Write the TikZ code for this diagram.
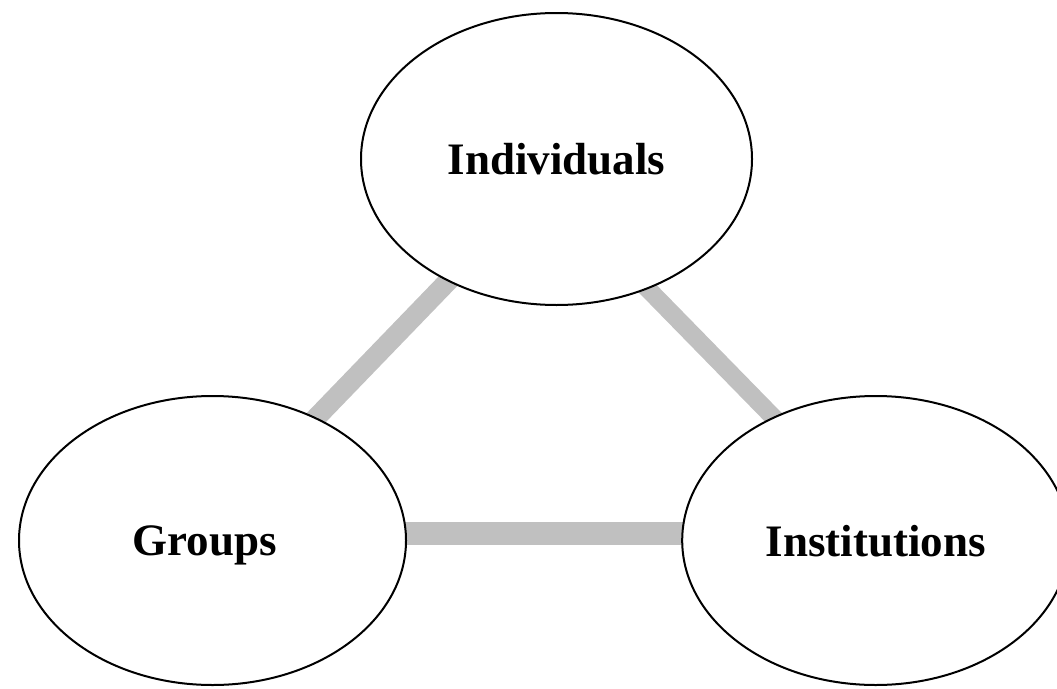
\documentclass[tikz,border=0pt]{standalone}
\usepackage{fontspec}
\setmainfont{Liberation Serif}
\usetikzlibrary{shapes.geometric,backgrounds}
\tikzset{
  bubble/.style={ellipse, draw=black, line width=2pt, fill=white, inner sep=0pt,
    font=\fontsize{45}{54}\selectfont\bfseries, text depth=0pt},
  link/.style={draw=linkgray, line cap=butt}
}
\definecolor{linkgray}{RGB}{192,192,192}
\begin{document}
\begin{tikzpicture}[x=1pt,y=-1pt]
\useasboundingbox (0,0) rectangle (1057,688);
\clip (0,0) rectangle (1057,688);
\node[bubble, minimum width=391pt, minimum height=292pt] (ind) at (556.5,159) {Individuals};
\node[bubble, minimum width=387pt, minimum height=289pt] (grp) at (212.5,540.5) {\hspace*{-16pt}Groups};
\node[bubble, minimum width=387pt, minimum height=289pt] (ins) at (875.7,540.5) {Institutions};
\begin{scope}[on background layer]
\draw[link, line width=20pt] ([shift={(-103.5,117)}]ind.center) -- ([shift={(100.5,-119.5)}]grp.center);
\draw[link, line width=18pt] ([shift={(87.5,126)}]ind.center) -- ([shift={(-98.7,-119.5)}]ins.center);
\draw[link, line width=23pt] ([xshift=-10pt]grp.east |- 0,533) -- ([xshift=10pt]ins.west |- 0,533);
\end{scope}
\end{tikzpicture}
\end{document}
